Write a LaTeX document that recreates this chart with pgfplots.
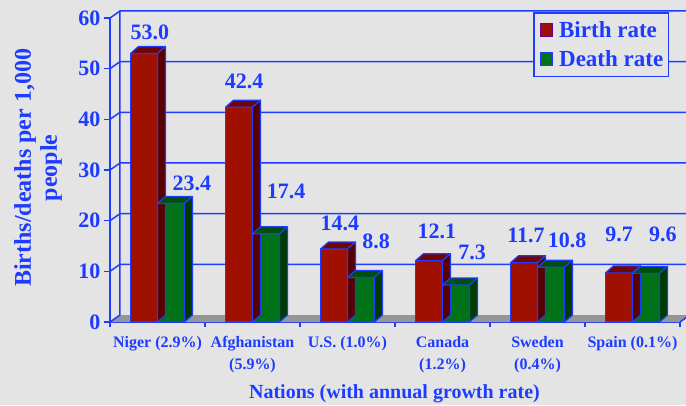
\documentclass[border=0pt]{standalone}
\usepackage{pgfplots}
\pgfplotsset{compat=1.18}
\usepackage{pgfplotstable}
\usepackage{fontspec}
\setmainfont{Liberation Serif}
\definecolor{bg}{RGB}{228,228,228}
\definecolor{tblue}{RGB}{30,60,255}
\definecolor{redfront}{RGB}{160,16,0}
\definecolor{redtop}{RGB}{115,5,0}
\definecolor{redside}{RGB}{88,0,0}
\definecolor{greenfront}{RGB}{0,115,25}
\definecolor{greentop}{RGB}{0,80,10}
\definecolor{greenside}{RGB}{0,60,0}
\definecolor{floorgray}{RGB}{150,150,150}
\pgfdeclareplotmark{blank}{}

\pgfplotstableread{
x birth death
0.5 53.0 23.4
1.5 42.4 17.4
2.5 14.4 8.8
3.5 12.1 7.3
4.5 11.7 10.8
5.5 9.7 9.6
}\ratetable

\tikzset{
  lab/.style={font=\fontsize{22}{22}\selectfont\bfseries, text=tblue, inner sep=0pt, anchor=center},
  edge/.style={draw=tblue, line width=1.2pt, line join=round},
}

\begin{document}
\begin{tikzpicture}
\useasboundingbox (0,0) rectangle (686pt,405pt);
\fill[bg] (0,0) rectangle (686pt,405pt);
\clip (0,0) rectangle (686pt,405pt);
\begin{axis}[
  at={(110pt,83pt)}, anchor=south west,
  x=95pt, y=5.0667pt,
  xmin=0, xmax=6, ymin=0, ymax=60,
  clip=false,
  axis x line*=bottom, axis y line*=left,
  axis line style={tblue, line width=1.5pt},
  ytick={0,10,...,60},
  tick align=outside,
  major tick length=6pt,
  tick style={tblue, line width=1.5pt},
  xtick={0.5,1.5,...,5.5},
  major x tick style={draw=none},
  minor xtick={0,1,...,6},
  minor tick length=5pt,
  xticklabels={{Niger (2.9\%)},{Afghanistan\\(5.9\%)},{U.S. (1.0\%)},{Canada\\(1.2\%)},{Sweden\\(0.4\%)},{Spain (0.1\%)}},
  xticklabel style={align=center, font=\fontsize{16}{22}\selectfont\bfseries, text=tblue, yshift=-5pt},
  yticklabel style={font=\fontsize{22}{22}\selectfont\bfseries, text=tblue},
  /pgf/number format/assume math mode=true,
  every axis y label/.style={at={(axis description cs:-0.1263,0.5066)}, rotate=90, anchor=center,
    align=center, font=\fontsize{24}{26}\selectfont\bfseries, text=tblue},
  ylabel={Births/deaths per 1,000\\people},
  every axis x label/.style={at={(axis description cs:0.4991,-0.25)}, anchor=base,
    font=\fontsize{20}{20}\selectfont\bfseries, text=tblue},
  xlabel={Nations (with annual growth rate)},
  legend style={at={(axis description cs:0.9807,1.0197)}, anchor=north east,
    draw=tblue, line width=1.5pt, fill=bg,
    font=\fontsize{23}{27}\selectfont\bfseries, text=tblue,
    cells={anchor=west}, inner xsep=3pt, inner ysep=6.5pt, row sep=8pt},
]
% floor
\fill[floorgray] (axis cs:0,0) -- (axis cs:6,0) -- ([shift={(10pt,7pt)}]axis cs:6,0) -- ([shift={(10pt,7pt)}]axis cs:0,0) -- cycle;
% back wall grid
\pgfplotsinvokeforeach{10,20,30,40,50,60}{
  \draw[tblue, line width=1.5pt, line join=round] (axis cs:0,#1) -- ([shift={(10pt,7pt)}]axis cs:0,#1) -- ([shift={(10pt,7pt)}]axis cs:6.2,#1);
}
\draw[tblue, line width=1.5pt, line join=round] (axis cs:0,0) -- ([shift={(10pt,7pt)}]axis cs:0,0) -- ([shift={(10pt,7pt)}]axis cs:0,60);
\draw[tblue, line width=1.5pt] (axis cs:6,0) -- ([shift={(10pt,7pt)}]axis cs:6,0);

% birth rate
\addplot[ybar, bar width=27pt, bar shift=-13.5pt, fill=redfront, draw=tblue, line width=1.2pt,
  legend image code/.code={\path[draw=none, fill=none] (-3pt,0pt) -- (17pt,0pt);
    \draw[fill=redfront, draw=blue!60!red, line width=1pt] (0pt,-6.5pt) rectangle (12pt,6.5pt);}]
  table[x=x, y=birth]{\ratetable};
\addlegendentry{Birth rate}
\addplot[forget plot, scatter, only marks, mark=blank,
  visualization depends on={rawy\as\val},
  scatter/@pre marker code/.code={
    \filldraw[fill=redtop, edge] (-27pt,0pt) -- (0pt,0pt) -- (8pt,7pt) -- (-19pt,7pt) -- cycle;
    \filldraw[fill=redside, edge] (0pt,0pt) -- (8pt,7pt) -- (8pt,{7pt-\val*5.0667pt}) -- (0pt,{-\val*5.0667pt}) -- cycle;
  },
  scatter/@post marker code/.code={}]
  table[x=x, y=birth]{\ratetable};

% death rate
\addplot[ybar, bar width=27pt, bar shift=13.5pt, fill=greenfront, draw=tblue, line width=1.2pt,
  legend image code/.code={\path[draw=none, fill=none] (-3pt,0pt) -- (17pt,0pt);
    \draw[fill=greenfront, draw=tblue, line width=1pt] (0pt,-6.5pt) rectangle (12pt,6.5pt);}]
  table[x=x, y=death]{\ratetable};
\addlegendentry{Death rate}
\addplot[forget plot, scatter, only marks, mark=blank,
  visualization depends on={rawy\as\val},
  scatter/@pre marker code/.code={
    \filldraw[fill=greentop, edge] (0pt,0pt) -- (27pt,0pt) -- (35pt,7pt) -- (8pt,7pt) -- cycle;
    \filldraw[fill=greenside, edge] (27pt,0pt) -- (35pt,7pt) -- (35pt,{7pt-\val*5.0667pt}) -- (27pt,{-\val*5.0667pt}) -- cycle;
  },
  scatter/@post marker code/.code={}]
  table[x=x, y=death]{\ratetable};

% value labels
\node[lab] at (axis cs:0.421,57.24) {53.0};
\node[lab] at (axis cs:0.863,27.34) {23.4};
\node[lab] at (axis cs:1.411,47.47) {42.4};
\node[lab] at (axis cs:1.853,25.76) {17.4};
\node[lab] at (axis cs:2.421,19.44) {14.4};
\node[lab] at (axis cs:2.800,15.99) {8.8};
\node[lab] at (axis cs:3.442,17.86) {12.1};
\node[lab] at (axis cs:3.811,13.72) {7.3};
\node[lab] at (axis cs:4.379,17.07) {11.7};
\node[lab] at (axis cs:4.811,16.18) {10.8};
\node[lab] at (axis cs:5.358,17.27) {9.7};
\node[lab] at (axis cs:5.821,17.27) {9.6};
\end{axis}
\end{tikzpicture}
\end{document}
